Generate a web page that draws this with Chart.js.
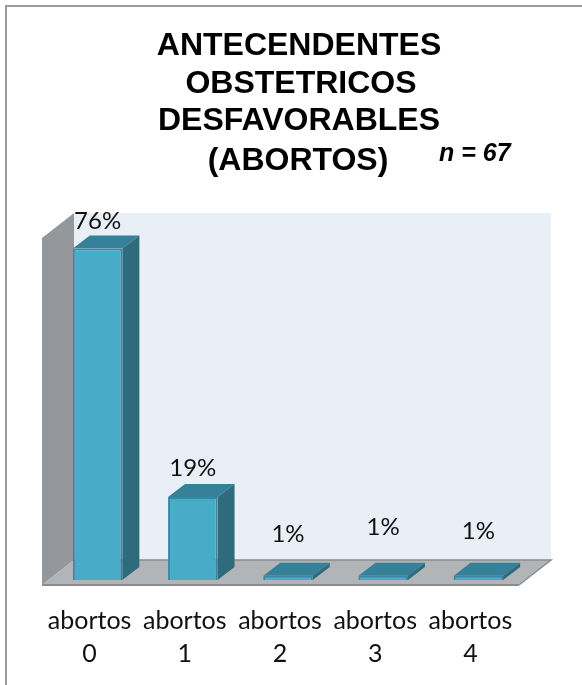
<!DOCTYPE html>
<html>
<head>
<meta charset="utf-8">
<title>Antecedentes obstetricos</title>
<script src="https://cdn.jsdelivr.net/npm/chart.js@4"></script>
<style>
  html, body { margin: 0; padding: 0; background: #fff; }
  #wrap { width: 582px; height: 685px; }
  canvas { display: block; }
</style>
</head>
<body>
<div id="wrap"><canvas id="barChart" width="582" height="685"></canvas></div>
<script>
// Datos
const categorias = [["abortos", "0"], ["abortos", "1"], ["abortos", "2"], ["abortos", "3"], ["abortos", "4"]];
const porcentajes = [76, 19, 1, 1, 1];
const titulo = ["ANTECENDENTES", "OBSTETRICOS", "DESFAVORABLES", "(ABORTOS)"];
const nota = "n = 67";

// Separacion de cada etiqueta respecto a la barra
const subidaEtiqueta = [27, 29, 41, 48, 44];

const fondoX = 17;
const fondoY = 13;

function poly(ctx, pts, fill) {
    ctx.beginPath();
    pts.forEach((p, i) => i ? ctx.lineTo(p[0], p[1]) : ctx.moveTo(p[0], p[1]));
    ctx.closePath();
    ctx.fillStyle = fill;
    ctx.fill();
}

// Paredes y suelo del efecto 3D
const paredes = {
    id: "paredes",
    beforeDatasetsDraw(chart) {
        const ctx = chart.ctx;
        const a = chart.chartArea;
        const l = a.left - 8, r = a.right - 7, b = a.bottom + 5;
        const tx = 32, ty = 25, top = a.top + 7;

        ctx.save();
        // marco
        ctx.strokeStyle = "#9a9a9a";
        ctx.lineWidth = 2;
        ctx.beginPath();
        ctx.moveTo(6, 700);
        ctx.lineTo(6, 6);
        ctx.lineTo(582, 6);
        ctx.stroke();
        // pared del fondo
        poly(ctx, [[l + tx, top - ty], [r + tx, top - ty], [r + tx, b - ty], [l + tx, b - ty]], "#e8eff6");
        // pared lateral
        poly(ctx, [[l, top], [l + tx, top - ty], [l + tx, b - ty], [l, b]], "#94979b");
        // suelo
        poly(ctx, [[l, b], [l + tx, b - ty], [r + tx, b - ty], [r, b]], "#b2b5b8");
        ctx.strokeStyle = "#8c8c8c";
        ctx.lineWidth = 2;
        ctx.beginPath();
        ctx.moveTo(l, b);
        ctx.lineTo(r, b);
        ctx.stroke();
        ctx.lineWidth = 1.5;
        ctx.beginPath();
        ctx.moveTo(l + tx, b - ty);
        ctx.lineTo(r + tx, b - ty);
        ctx.lineTo(r, b);
        ctx.stroke();
        ctx.restore();
    },
    // caras superior y lateral de cada barra, y textos
    afterDatasetsDraw(chart) {
        const ctx = chart.ctx;
        ctx.save();
        chart.getDatasetMeta(0).data.forEach((bar, i) => {
            const p = bar.getProps(["x", "y", "base", "width"], true);
            const x0 = p.x - p.width / 2, x1 = p.x + p.width / 2;
            poly(ctx, [[x0, p.y], [x0 + fondoX, p.y - fondoY], [x1 + fondoX, p.y - fondoY], [x1, p.y]], "#36819a");
            poly(ctx, [[x1, p.y], [x1 + fondoX, p.y - fondoY], [x1 + fondoX, p.base - fondoY], [x1, p.base]], "#2f6b7d");

            ctx.fillStyle = "#111";
            ctx.font = "24px Lato";
            ctx.textAlign = "center";
            ctx.textBaseline = "middle";
            ctx.fillText(porcentajes[i] + "%", p.x, p.y - subidaEtiqueta[i]);
        });

        // titulo
        ctx.fillStyle = "#000";
        ctx.font = "bold 32px 'Liberation Sans'";
        ctx.textAlign = "center";
        const centros = [299, 301, 299, 298];
        const alturas = [46, 84, 121, 161];
        titulo.forEach((linea, i) => ctx.fillText(linea, centros[i], alturas[i]));

        ctx.font = "italic bold 25px 'Liberation Sans'";
        ctx.textAlign = "left";
        ctx.fillText(nota, 439, 154);
        ctx.restore();
    }
};

new Chart(document.getElementById("barChart"), {
    type: "bar",
    data: {
        labels: categorias,
        datasets: [{
            data: porcentajes,
            backgroundColor: "#48abc8",
            borderColor: "#338aa2",
            borderWidth: 2,
            categoryPercentage: 1,
            barPercentage: 0.52
        }]
    },
    options: {
        responsive: false,
        animation: false,
        layout: { padding: { left: 50, right: 56, top: 231, bottom: -1 } },
        plugins: {
            legend: { display: false },
            tooltip: { enabled: false }
        },
        scales: {
            x: {
                grid: { display: false },
                border: { display: false },
                ticks: {
                    color: "#111",
                    font: { family: "Lato", size: 25, lineHeight: 1.32 },
                    labelOffset: -8,
                    maxRotation: 0,
                    autoSkip: false,
                    padding: 16
                }
            },
            y: { display: false, min: 0, max: 80 }
        }
    },
    plugins: [paredes]
});
</script>
</body>
</html>
